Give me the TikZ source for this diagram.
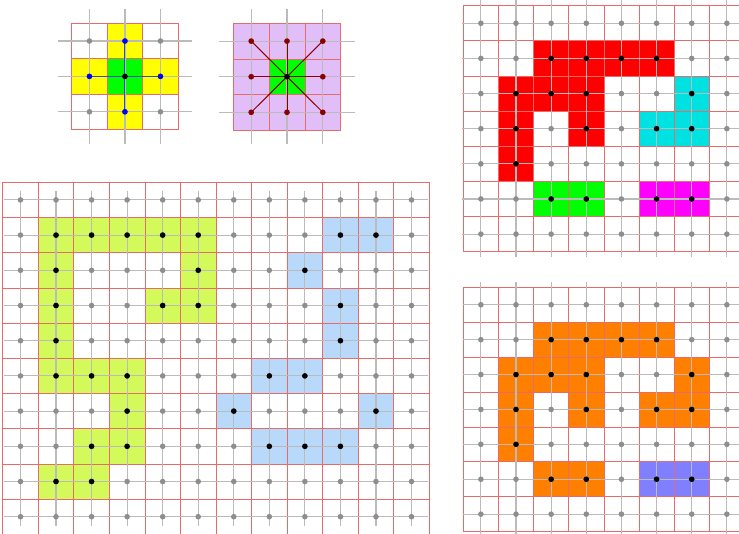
\documentclass[tikz,border=0pt]{standalone}
\definecolor{gridred}{HTML}{E66C6C}
\definecolor{latgray}{HTML}{BBBBBB}
\definecolor{dotgray}{HTML}{8E8E8E}
\definecolor{lime}{HTML}{D4F95B}
\definecolor{skyblue}{HTML}{B9D9FA}
\definecolor{lavender}{HTML}{E1BEF8}
\definecolor{pcyan}{HTML}{00E2E2}
\definecolor{porange}{HTML}{FF8000}
\definecolor{pviolet}{HTML}{7F7FFF}
\definecolor{darkred}{HTML}{8B0000}
\definecolor{linkblue}{HTML}{2F4FC0}
\definecolor{pred}{HTML}{FF0000}
\definecolor{pgreen}{HTML}{00FF00}
\definecolor{pyellow}{HTML}{FFFF00}
\definecolor{pmagenta}{HTML}{FF00FF}
\definecolor{pblue}{HTML}{0000FF}
\definecolor{pblack}{HTML}{000000}
\definecolor{pwhite}{HTML}{FFFFFF}
\tikzset{
  redline/.style={draw=gridred,line width=0.7pt},
  grayline/.style={draw=latgray,line width=1.1pt},
  graydot/.style={fill=dotgray},
  blackdot/.style={fill=pblack},
}
% #1 x0, #2 y0, #3 w, #4 h, #5 ncols, #6 nrows, #7 horizontal-line extension, #8 vertical-line extension
\newcommand\latgrid[8]{%
  \foreach \i in {0,...,#5}{\draw[redline] ({#1+\i*#3},{#2}) -- ({#1+\i*#3},{#2+#6*#4});}
  \foreach \j in {0,...,#6}{\draw[redline] ({#1},{#2+\j*#4}) -- ({#1+#5*#3},{#2+\j*#4});}
  \foreach \i in {1,...,#5}{\draw[grayline] ({#1+(\i-0.5)*#3},{#2+(0.5-#8)*#4}) -- ({#1+(\i-0.5)*#3},{#2+(#6-0.5+#8)*#4});}
  \foreach \j in {1,...,#6}{\draw[grayline] ({#1+(0.5-#7)*#3},{#2+(\j-0.5)*#4}) -- ({#1+(#5-0.5+#7)*#3},{#2+(\j-0.5)*#4});}
  \foreach \i in {1,...,#5}{\foreach \j in {1,...,#6}{\fill[graydot] ({#1+(\i-0.5)*#3},{#2+(\j-0.5)*#4}) circle[radius=2.8pt];}}
}
\newcommand\cellfill[6]{%
  \edef\mycells{#6}%
  \foreach \cc/\rr in \mycells {\fill[#5] ({#1+\cc*#3},{#2+\rr*#4}) rectangle ({#1+(\cc+1)*#3},{#2+(\rr+1)*#4});}
}
\newcommand\celldot[5]{%
  \edef\mycells{#5}%
  \foreach \cc/\rr in \mycells {\fill[blackdot] ({#1+(\cc+0.5)*#3},{#2+(\rr+0.5)*#4}) circle[radius=2.8pt];}
}
\begin{document}
\begin{tikzpicture}[x=1pt,y=-1pt]
\useasboundingbox (0,0) rectangle (739,533);
\clip (0,0) rectangle (739,533);
\fill[pwhite] (0,0) rectangle (739,533);

% ---------- small picture: 4-neighbourhood ----------
\cellfill{71.7}{23.3}{35.5}{35.4}{pyellow}{1/0,0/1,2/1,1/2}
\cellfill{71.7}{23.3}{35.5}{35.4}{pgreen}{1/1}
\latgrid{71.7}{23.3}{35.5}{35.4}{3}{3}{0.9}{0.9}
\coordinate (Lc) at ({71.7+1.5*35.5},{23.3+1.5*35.4});
\coordinate (Ln) at ({71.7+1.5*35.5},{23.3+0.5*35.4});
\coordinate (Ls) at ({71.7+1.5*35.5},{23.3+2.5*35.4});
\coordinate (Lw) at ({71.7+0.5*35.5},{23.3+1.5*35.4});
\coordinate (Le) at ({71.7+2.5*35.5},{23.3+1.5*35.4});
\foreach \p in {Ln,Ls,Lw,Le}{\draw[linkblue,line width=1pt] (Lc) -- (\p);}
\foreach \p in {Ln,Ls,Lw,Le}{\fill[pblue] (\p) circle[radius=2.8pt];}
\fill[pblack] (Lc) circle[radius=2.8pt];

% ---------- small picture: 8-neighbourhood ----------
\cellfill{233.3}{23.3}{35.8}{35.6}{lavender}{0/0,1/0,2/0,0/1,2/1,0/2,1/2,2/2}
\cellfill{233.3}{23.3}{35.8}{35.6}{pgreen}{1/1}
\latgrid{233.3}{23.3}{35.8}{35.6}{3}{3}{0.9}{0.9}
\coordinate (Rc) at ({233.3+1.5*35.8},{23.3+1.5*35.6});
\foreach \a/\b [count=\k] in {0/0,1/0,2/0,0/1,2/1,0/2,1/2,2/2}{
  \coordinate (R\k) at ({233.3+(\a+0.5)*35.8},{23.3+(\b+0.5)*35.6});
}
\foreach \k in {1,...,8}{\draw[darkred,line width=1pt] (Rc) -- (R\k);}
\foreach \k in {1,...,8}{\fill[darkred] (R\k) circle[radius=2.8pt];}
\fill[pblack] (Rc) circle[radius=2.8pt];

% ---------- large grid ----------
\def\LA{1/1,2/1,3/1,4/1,5/1,1/2,5/2,1/3,4/3,5/3,1/4,1/5,2/5,3/5,3/6,2/7,3/7,1/8,2/8}
\def\LB{9/1,10/1,8/2,9/3,9/4,7/5,8/5,6/6,10/6,7/7,8/7,9/7}
\cellfill{2.7}{182.3}{35.55}{35.2}{lime}{\LA}
\cellfill{2.7}{182.3}{35.55}{35.2}{skyblue}{\LB}
\latgrid{2.7}{182.3}{35.55}{35.2}{12}{10}{0.45}{0.25}
\celldot{2.7}{182.3}{35.55}{35.2}{\LA}
\celldot{2.7}{182.3}{35.55}{35.2}{\LB}

% ---------- top right grid ----------
\def\TA{2/1,3/1,4/1,5/1,1/2,2/2,3/2,1/3,3/3,1/4}
\def\TB{6/2,5/3,6/3}
\def\TC{2/5,3/5}
\def\TD{5/5,6/5}
\cellfill{463.3}{5.7}{35.14}{35.14}{pred}{\TA}
\cellfill{463.3}{5.7}{35.14}{35.14}{pcyan}{\TB}
\cellfill{463.3}{5.7}{35.14}{35.14}{pgreen}{\TC}
\cellfill{463.3}{5.7}{35.14}{35.14}{pmagenta}{\TD}
\latgrid{463.3}{5.7}{35.14}{35.14}{8}{7}{0.55}{0.65}
\celldot{463.3}{5.7}{35.14}{35.14}{\TA}
\celldot{463.3}{5.7}{35.14}{35.14}{\TB}
\celldot{463.3}{5.7}{35.14}{35.14}{\TC}
\celldot{463.3}{5.7}{35.14}{35.14}{\TD}

% ---------- bottom right grid ----------
\def\BA{2/1,3/1,4/1,5/1,1/2,2/2,3/2,6/2,1/3,3/3,5/3,6/3,1/4,2/5,3/5}
\def\BB{5/5,6/5}
\cellfill{463.3}{287.3}{35.14}{34.9}{porange}{\BA}
\cellfill{463.3}{287.3}{35.14}{34.9}{pviolet}{\BB}
\latgrid{463.3}{287.3}{35.14}{34.9}{8}{7}{0.52}{0.66}
\celldot{463.3}{287.3}{35.14}{34.9}{\BA}
\celldot{463.3}{287.3}{35.14}{34.9}{\BB}
\end{tikzpicture}
\end{document}
